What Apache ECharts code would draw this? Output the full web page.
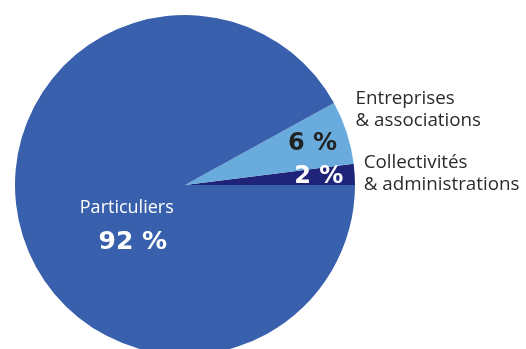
<!DOCTYPE html>
<html>
<head>
<meta charset="utf-8">
<script src="https://cdn.jsdelivr.net/npm/echarts@6/dist/echarts.min.js"></script>
<style>
  html, body { margin: 0; padding: 0; background: #ffffff; }
  #chart { width: 526px; height: 349px; }
</style>
</head>
<body>
<div id="chart"></div>
<script>
// Categories, listed counter-clockwise from the 3 o'clock position
const categories = ['Collectivités\n& administrations', 'Entreprises\n& associations', 'Particuliers'];
const shares = [2, 6, 92];
const colors = ['#1f2479', '#69abdd', '#3960ac'];
const valueColors = ['#ffffff', '#222222', '#ffffff'];

const textFont = '"Open Sans", sans-serif';
const numFont = '"DejaVu Sans", sans-serif';

const chart = echarts.init(document.getElementById('chart'), null, { renderer: 'canvas' });

// Main pie: slices, category names
const mainData = categories.map((name, i) => {
  const item = { name: name, value: shares[i], itemStyle: { color: colors[i] } };
  if (name === 'Particuliers') {
    item.label = {
      position: 'inside',
      formatter: '{n|{b}}\n{v|{c} %}',
      rich: {
        n: { fontFamily: textFont, fontSize: 18, color: '#ffffff', lineHeight: 34 },
        v: { fontFamily: numFont, fontWeight: 'bold', fontSize: 25, color: '#ffffff', lineHeight: 36, padding: [0, 0, 0, 12] }
      }
    };
  } else {
    item.label = {
      position: 'outside',
      formatter: '{b}',
      fontFamily: textFont,
      fontSize: 18.8,
      lineHeight: 22,
      color: '#2b2b2b'
    };
  }
  return item;
});

// Overlay pie (transparent) carrying the value labels of the two small slices
const valueData = categories.map((name, i) => ({
  name: name,
  value: shares[i],
  itemStyle: { color: 'rgba(0,0,0,0)' },
  label: {
    show: name !== 'Particuliers',
    color: valueColors[i]
  }
}));

chart.setOption({
  animation: false,
  series: [
    {
      type: 'pie',
      center: [185, 185],
      radius: [0, 170],
      startAngle: 0,
      clockwise: false,
      avoidLabelOverlap: false,
      itemStyle: { borderWidth: 0 },
      label: { show: true, distanceToLabelLine: 5 },
      labelLine: { show: false, length: 4, length2: 0 },
      labelLayout: function (p) {
        if (p.dataIndex === 1) return { dy: -22 };
        if (p.dataIndex === 2) return { dx: 27, dy: 19 };
        return {};
      },
      emphasis: { disabled: true },
      data: mainData
    },
    {
      type: 'pie',
      silent: true,
      center: [185, 185],
      radius: [0, 262],
      startAngle: 0,
      clockwise: false,
      avoidLabelOverlap: false,
      itemStyle: { borderWidth: 0 },
      label: {
        show: true,
        position: 'inside',
        formatter: '{c} %',
        fontFamily: numFont,
        fontWeight: 'bold',
        fontSize: 24
      },
      labelLine: { show: false },
      emphasis: { disabled: true },
      data: valueData
    }
  ]
});
</script>
</body>
</html>
